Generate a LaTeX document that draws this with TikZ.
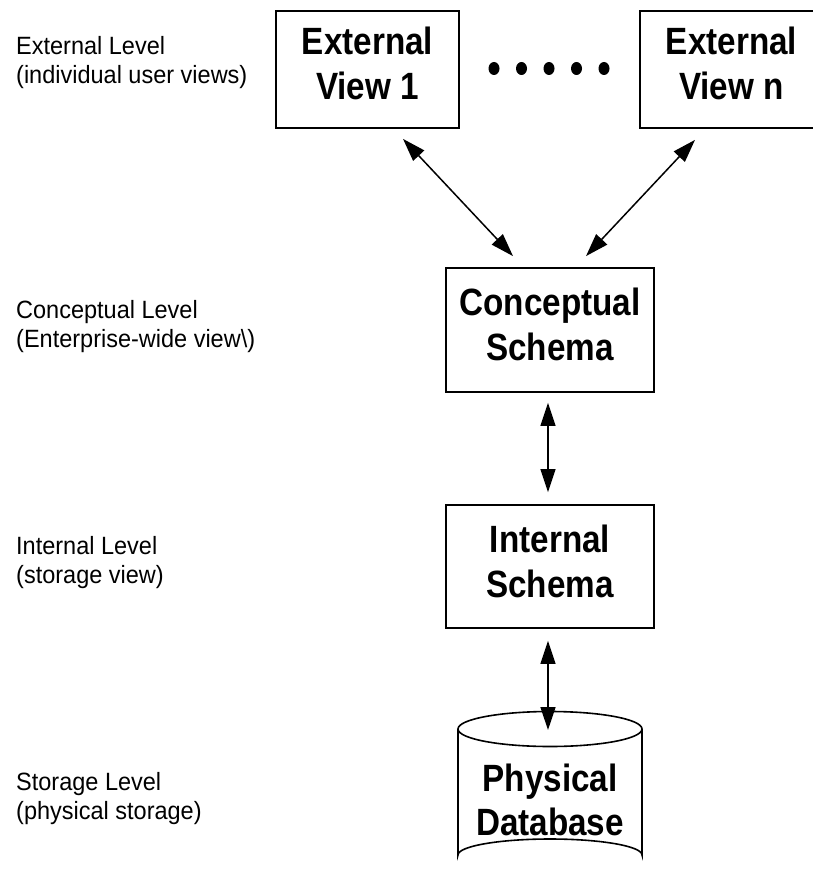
\documentclass[tikz,border=0pt]{standalone}
\usepackage{fontspec}
\usetikzlibrary{arrows.meta,calc,shapes.geometric}
\newfontfamily\levelfont[FakeStretch=0.94]{Liberation Sans}
\newfontfamily\schemafont[FakeStretch=0.875]{Liberation Sans}

\tikzset{
  box/.style={draw=black, line width=1.8pt, rectangle, inner sep=0pt},
  boxtext/.style={font=\schemafont\bfseries\fontsize{38}{45}\selectfont, inner sep=0pt, anchor=base},
  leveltext/.style={font=\levelfont\fontsize{25}{29}\selectfont, inner sep=0pt, anchor=base west},
  biarrow/.style={line width=1.5pt,
    {Triangle[length=23pt,width=15pt]}-{Triangle[length=23pt,width=15pt]}},
  dot/.style={fill=black, ellipse, minimum width=11pt, minimum height=13pt, inner sep=0pt},
  cyl/.style={line width=1.6pt}
}

\begin{document}
\begin{tikzpicture}[x=1pt,y=-1pt]
\useasboundingbox (0,0) rectangle (813,872);
\fill[white] (0,0) rectangle (813,872);

% level captions
\node[leveltext] (l1a) at (16,55)  {External Level};
\node[leveltext] (l1b) at (16,84)  {(individual user views)};
\node[leveltext] (l2a) at (16,318) {Conceptual Level};
\node[leveltext] (l2b) at (16,347) {(Enterprise-wide view\textbackslash)};
\node[leveltext] (l3a) at (16,554) {Internal Level};
\node[leveltext] (l3b) at (16,583) {(storage view)};
\node[leveltext] (l4a) at (16,790) {Storage Level};
\node[leveltext] (l4b) at (16,819) {(physical storage)};

% external views
\node[box, minimum width=183pt, minimum height=117pt] (ev1) at (367.5,69.5) {};
\node[boxtext] (ev1a) at (367.5,55)  {External};
\node[boxtext] (ev1b) at (367.5,100) {View 1};

\node[box, minimum width=183pt, minimum height=117pt] (evn) at (731.5,69.5) {};
\node[boxtext] (evna) at (731.5,55)  {External};
\node[boxtext] (evnb) at (731.5,100) {View n};

\foreach \i/\x in {1/494,2/521.5,3/549,4/576.5,5/604}
  \node[dot] (d\i) at (\x,68.5) {};

% conceptual schema
\node[box, minimum width=208pt, minimum height=124pt] (cs) at (550,330) {};
\node[boxtext] (csa) at (550,315) {Conceptual};
\node[boxtext] (csb) at (550,360) {Schema};

% internal schema
\node[box, minimum width=208pt, minimum height=123pt] (is) at (550,566.5) {};
\node[boxtext] (isa) at (550,552) {Internal};
\node[boxtext] (isb) at (550,597) {Schema};

% physical database cylinder
\coordinate (dbc) at (550,729);
\draw[cyl, fill=white] (458,729) -- (458,855)
  arc[start angle=180, end angle=0, x radius=92pt, y radius=16pt] -- (642,729);
\draw[cyl] (dbc) ellipse [x radius=92pt, y radius=17.5pt];
\node[boxtext] (dba) at (550,791) {Physical};
\node[boxtext] (dbb) at (550,835) {Database};
\coordinate (dbtop) at (548,730);

% mappings between levels
\draw[biarrow] ($(ev1.south)+(35.5,10)$) -- ($(cs.north)+(-37,-11)$);
\draw[biarrow] ($(evn.south)+(-36.5,11)$) -- ($(cs.north)+(36,-11)$);
\draw[biarrow] ($(cs.south)+(-2,10)$) -- ($(is.north)+(-2,-12)$);
\draw[biarrow] ($(is.south)+(-2,12)$) -- (dbtop);
\end{tikzpicture}
\end{document}
